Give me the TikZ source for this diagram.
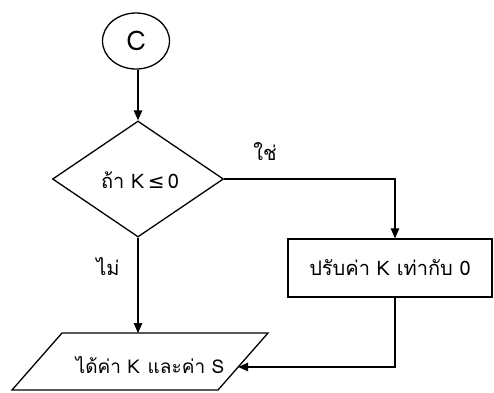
\documentclass[tikz,border=0pt]{standalone}
\usepackage{fontspec}
\setmainfont[Script=Thai]{Loma}
\newfontfamily\symfont{DejaVu Sans}
\usetikzlibrary{shapes.geometric,arrows.meta,calc}
\tikzset{
  line/.style={line width=1.3pt,draw=black},
  arr/.style={line, -{Triangle[length=10pt,width=8.5pt]}},
  lbl/.style={font=\fontsize{20}{24}\selectfont, inner sep=0pt},
}
\begin{document}
\begin{tikzpicture}[x=1pt,y=-1pt]
\useasboundingbox (0,0) rectangle (494,392);
% start connector
\node[ellipse, line, minimum width=67pt, minimum height=56pt, inner sep=0pt,
      font=\fontsize{27}{30}\selectfont] (c) at (136,41) {C};
% decision
\node[diamond, line, minimum width=171pt, minimum height=116pt, inner sep=0pt,
      lbl] (d) at (138,179) {};
\node[lbl] (dt) at (140,180) {ถ้า K\,{\symfont ≤}\,0};
% process
\node[rectangle, line, minimum width=204pt, minimum height=58pt, inner sep=0pt,
      lbl] (b) at (390,268) {ปรับค่า K เท่ากับ 0};
% output parallelogram
\coordinate (p1) at (62,333);
\coordinate (p2) at (268,333);
\coordinate (p3) at (218,390);
\coordinate (p4) at (12,390);
\draw[line] (p1) -- (p2) -- (p3) -- (p4) -- cycle;
\node[lbl, font=\fontsize{19}{22}\selectfont] (pt) at (150,365) {ได้ค่า K\hspace{0.4em}และค่า S};
\coordinate (pr) at ($(p2)!0.596!(p3)$);
% connectors
\draw[arr] (d.north |- c.south) -- (d.north);
\draw[arr] (d.east) -| ([xshift=5pt]b.north);
\draw[arr] (d.south) -- (d.south |- p1);
\draw[arr] ([xshift=5pt]b.south) |- (pr);
% labels
\node[lbl] (yes) at (265,152) {ใช่};
\node[lbl] (no) at (108,267) {ไม่};
\end{tikzpicture}
\end{document}
